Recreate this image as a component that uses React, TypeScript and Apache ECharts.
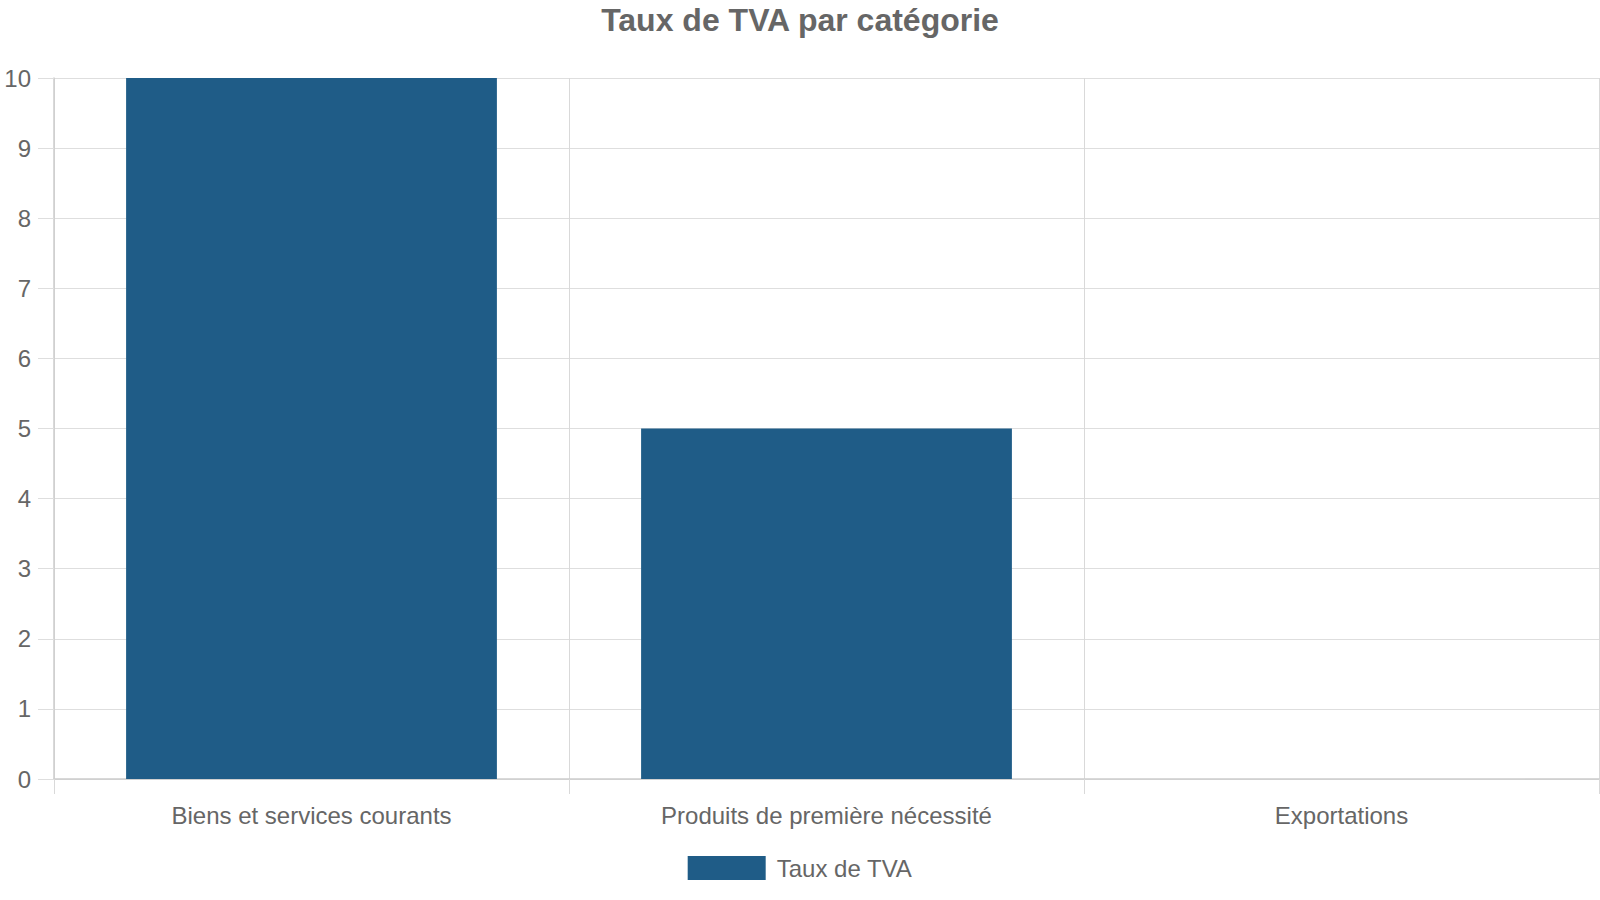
import React, { useEffect, useRef } from "react";
import * as echarts from "echarts";

const categories = ["Biens et services courants", "Produits de première nécessité", "Exportations"];
const seriesName = "Taux de TVA";
const values = [10, 5, 0];
const titleText = "Taux de TVA par catégorie";

export default function App() {
  const ref = useRef<HTMLDivElement>(null);
  useEffect(() => {
    document.body.style.margin = "0";
    const chart = echarts.init(ref.current!, null, { renderer: "svg" });
    const font = "'Liberation Sans', Arial, sans-serif";
    chart.setOption({
      animation: false,
      textStyle: { fontFamily: font },
      title: {
        text: titleText,
        left: "center",
        top: 4,
        padding: 0,
        textStyle: { fontFamily: font, fontSize: 32, fontWeight: "bold", color: "#666666" },
      },
      legend: {
        data: [seriesName],
        left: "center",
        top: 851,
        itemWidth: 78,
        itemHeight: 24,
        itemGap: 13,
        icon: "rect",
        textStyle: { fontFamily: font, fontSize: 24, color: "#666666", padding: [0, 0, 0, 6] },
      },
      grid: { left: 54, right: 1, top: 78, bottom: 121, containLabel: false },
      xAxis: {
        type: "category",
        data: categories,
        boundaryGap: true,
        axisLine: { show: true, lineStyle: { color: "#cccccc", width: 1.5 } },
        axisTick: { show: true, length: 15, alignWithLabel: false, lineStyle: { color: "#d9d9d9" } },
        splitLine: { show: true, lineStyle: { color: "#d9d9d9" } },
        axisLabel: { fontFamily: font, fontSize: 24, color: "#666666", margin: 24 },
      },
      yAxis: {
        type: "value",
        min: 0,
        max: 10,
        interval: 1,
        axisLine: { show: true, lineStyle: { color: "#cccccc", width: 1.5 } },
        axisTick: { show: true, length: 16, lineStyle: { color: "#dedede" } },
        splitLine: { show: true, lineStyle: { color: "#dedede" } },
        axisLabel: { fontFamily: font, fontSize: 24, color: "#666666", margin: 23 },
      },
      series: [
        {
          name: seriesName,
          type: "bar",
          data: values,
          barWidth: "72%",
          itemStyle: { color: "#1f5c87" },
        },
      ],
    });
    return () => chart.dispose();
  }, []);
  return <div ref={ref} style={{ position: "absolute", left: 0, top: 0, width: 1600, height: 900 }} />;
}
